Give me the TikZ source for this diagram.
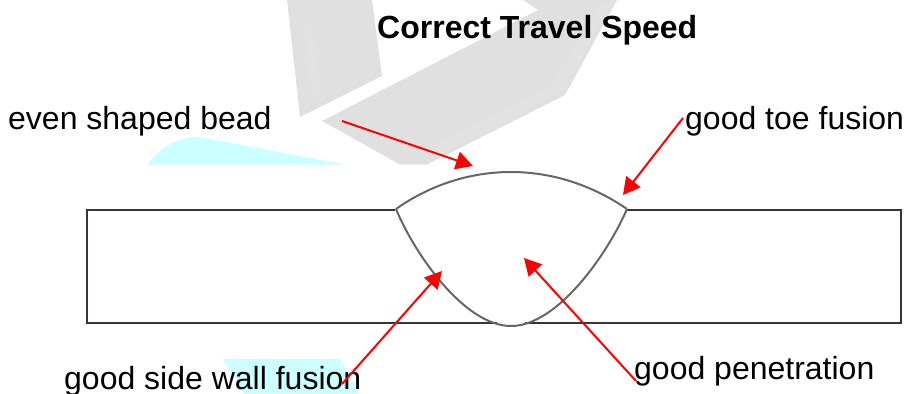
\documentclass[tikz,border=0pt]{standalone}
\usepackage{fontspec}
\setmainfont{Liberation Sans}
\definecolor{wm}{HTML}{E0E0E0}
\definecolor{wmd}{HTML}{E2E2E2}
\definecolor{cy}{HTML}{CCFFFF}
\definecolor{ln}{HTML}{3A3434}
\usetikzlibrary{arrows.meta}
\tikzset{
  lab/.style={inner sep=0pt,anchor=base west,font=\fontsize{32}{36}\selectfont,text=black},
  ttl/.style={inner sep=0pt,anchor=base west,font=\fontsize{32}{36}\selectfont\bfseries,text=black},
  red arrow/.style={draw=red,line width=2pt,-{Triangle[length=17pt,width=18pt]}},
  plate/.style={draw=ln,line width=1.7pt},
  bead/.style={draw=black!60,line width=2pt}
}
\begin{document}
\begin{tikzpicture}[x=1pt,y=-1pt]
\useasboundingbox (0,0) rectangle (906,394);
\fill[wm] (287,0) -- (372,0) -- (382,76) -- (300,117) -- cycle;
\fill[wmd] (303,22) -- (312,25) -- (322,92) -- (312,98) -- cycle;
\fill[wm] (322,121) -- (538,10) -- (523,0) -- (617,0) -- (565,95) -- (427,164.5) -- (400,164.5) -- cycle;
\fill[wmd] (552,84) -- (600,5) -- (610,5) -- (563,93) -- (430,160) -- (420,150) -- cycle;
\fill[cy] (147,164.5) .. controls (165,143) and (185,134) .. (205,138) -- (345,164.5) -- cycle;
\fill[cy] (223,359) -- (340,359) -- (359,394) -- (244,394) -- cycle;
\draw[plate] (395,210) -- (87,210) -- (87,323) -- (497,323);
\draw[plate] (627,210) -- (901,210) -- (901,323) -- (525,323);
\draw[bead] (396,209) .. controls (430,185) and (470,172) .. (511,172) .. controls (552,172) and (592,185) .. (627,209);
\draw[bead] (396,209) .. controls (415,255) and (465,326) .. (511,326) .. controls (557,326) and (607,255) .. (627,209);
\coordinate (a1s) at (342,121); \coordinate (a1e) at (473,166);
\coordinate (a2s) at (683,118); \coordinate (a2e) at (623,195);
\coordinate (a3s) at (342,384); \coordinate (a3e) at (442,271);
\coordinate (a4s) at (636,381); \coordinate (a4e) at (524,258);
\node[ttl] (title) at (377,38) {Correct Travel Speed};
\node[lab] (l1) at (8,129) {even shaped bead};
\node[lab] (l2) at (685,129) {good toe fusion};
\node[lab] (l3) at (64,389) {good side wall fusion};
\node[lab] (l4) at (634,379) {good penetration};
\draw[red arrow] (a1s) -- (a1e);
\draw[red arrow] (a2s) -- (a2e);
\draw[red arrow] (a3s) -- (a3e);
\draw[red arrow] (a4s) -- (a4e);
\end{tikzpicture}
\end{document}
